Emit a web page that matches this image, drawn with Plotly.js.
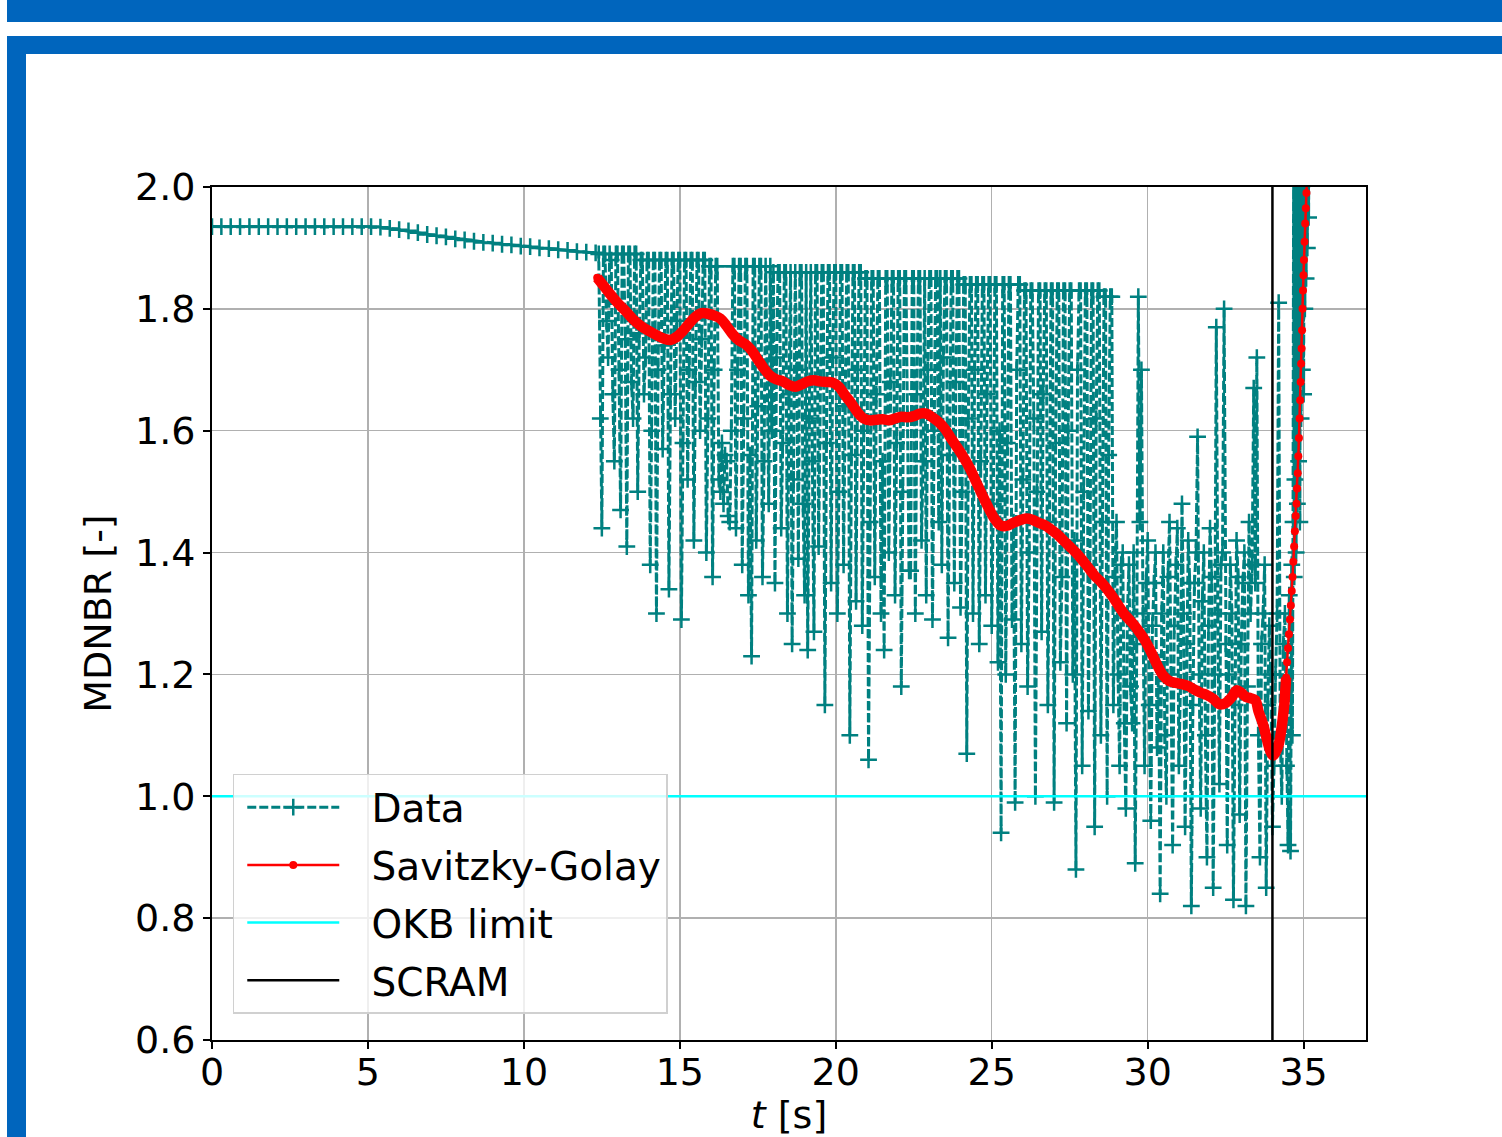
<!DOCTYPE html>
<html>
<head>
<meta charset="utf-8">
<script src="https://cdn.plot.ly/plotly-3.0.1.min.js"></script>
<style>
  html, body { margin: 0; padding: 0; background: #ffffff; overflow: hidden; }
  #wrap { position: relative; width: 1502px; height: 1137px; }
  #chart { position: absolute; left: 0; top: 0; width: 1502px; height: 1137px; }
  .band { position: absolute; background: #0065bd; z-index: 10; }
</style>
</head>
<body>
<div id="wrap">
  <div id="chart"></div>
  <div class="band" style="left:7px; top:0px; width:1495px; height:22px;"></div>
  <div class="band" style="left:7px; top:36px; width:1495px; height:18px;"></div>
  <div class="band" style="left:7px; top:36px; width:19px; height:1101px;"></div>
</div>
<script>
// ---- Data series ----
const dataT = [
  0.0,0.3,0.6,0.9,1.2,1.5,1.8,2.1,2.4,2.7,
  3.0,3.3,3.6,3.9,4.2,4.5,4.8,5.1,5.4,5.7,
  6.0,6.3,6.6,6.9,7.2,7.5,7.8,8.1,8.4,8.7,
  9.0,9.3,9.6,9.9,10.2,10.5,10.8,11.1,11.4,11.7,
  12.0,12.3,
  12.40,12.45,12.50,12.55,12.60,12.65,12.70,12.75,12.80,12.85,12.90,12.95,13.00,13.05,13.10,13.15,13.20,13.25,13.30,13.35,
  13.40,13.45,13.50,13.55,13.60,13.65,13.70,13.75,13.80,13.85,13.90,13.95,14.00,14.05,14.10,14.15,14.20,14.25,14.30,14.35,
  14.40,14.45,14.50,14.55,14.60,14.65,14.70,14.75,14.80,14.85,14.90,14.95,15.00,15.05,15.10,15.15,15.20,15.25,15.30,15.35,
  15.40,15.45,15.50,15.55,15.60,15.65,15.70,15.75,15.80,15.85,15.90,15.95,16.00,16.05,16.10,16.15,16.20,16.25,16.30,16.35,
  16.40,16.45,16.50,16.55,16.60,16.65,16.70,16.75,16.80,16.85,16.90,16.95,17.00,17.05,17.10,17.15,17.20,17.25,17.30,17.35,
  17.40,17.45,17.50,17.55,17.60,17.65,17.70,17.75,17.80,17.85,17.90,17.95,18.00,18.05,18.10,18.15,18.20,18.25,18.30,18.35,
  18.40,18.45,18.50,18.55,18.60,18.65,18.70,18.75,18.80,18.85,18.90,18.95,19.00,19.05,19.10,19.15,19.20,19.25,19.30,19.35,
  19.40,19.45,19.50,19.55,19.60,19.65,19.70,19.75,19.80,19.85,19.90,19.95,20.00,20.05,20.10,20.15,20.20,20.25,20.30,20.35,
  20.40,20.45,20.50,20.55,20.60,20.65,20.70,20.75,20.80,20.85,20.90,20.95,21.00,21.05,21.10,21.15,21.20,21.25,21.30,21.35,
  21.40,21.45,21.50,21.55,21.60,21.65,21.70,21.75,21.80,21.85,21.90,21.95,22.00,22.05,22.10,22.15,22.20,22.25,22.30,22.35,
  22.40,22.45,22.50,22.55,22.60,22.65,22.70,22.75,22.80,22.85,22.90,22.95,23.00,23.05,23.10,23.15,23.20,23.25,23.30,23.35,
  23.40,23.45,23.50,23.55,23.60,23.65,23.70,23.75,23.80,23.85,23.90,23.95,24.00,24.05,24.10,24.15,24.20,24.25,24.30,24.35,
  24.40,24.45,24.50,24.55,24.60,24.65,24.70,24.75,24.80,24.85,24.90,24.95,25.00,25.05,25.10,25.15,25.20,25.25,25.30,25.35,
  25.40,25.45,25.50,25.55,25.60,25.65,25.70,25.75,25.80,25.85,25.90,25.95,26.00,26.05,26.10,26.15,26.20,26.25,26.30,26.35,
  26.40,26.45,26.50,26.55,26.60,26.65,26.70,26.75,26.80,26.85,26.90,26.95,27.00,27.05,27.10,27.15,27.20,27.25,27.30,27.35,
  27.40,27.45,27.50,27.55,27.60,27.65,27.70,27.75,27.80,27.85,27.90,27.95,28.00,28.05,28.10,28.15,28.20,28.25,28.30,28.35,
  28.40,28.45,28.50,28.55,28.60,28.65,28.70,28.75,28.80,28.85,28.90,28.95,29.00,29.05,29.10,29.15,29.20,29.25,29.30,29.35,
  29.40,29.45,29.50,29.55,29.60,29.65,29.70,29.75,29.80,29.85,29.90,29.95,30.00,30.05,30.10,30.15,30.20,30.25,30.30,30.35,
  30.40,30.45,30.50,30.55,30.60,30.65,30.70,30.75,30.80,30.85,30.90,30.95,31.00,31.05,31.10,31.15,31.20,31.25,31.30,31.35,
  31.40,31.45,31.50,31.55,31.60,31.65,31.70,31.75,31.80,31.85,31.90,31.95,32.00,32.05,32.10,32.15,32.20,32.25,32.30,32.35,
  32.40,32.45,32.50,32.55,32.60,32.65,32.70,32.75,32.80,32.85,32.90,32.95,33.00,33.05,33.10,33.15,33.20,33.25,33.30,33.35,
  33.40,33.45,33.50,33.55,33.60,33.65,33.70,33.75,33.80,33.85,33.90,33.95,34.00,34.05,34.10,34.15,34.20,34.25,34.30,34.35,
  34.40,34.45,34.50,34.54,34.58,
  34.62,34.64,34.66,34.68,34.70,34.72,34.74,34.76,34.78,34.80,
  34.82,34.84,34.86,34.88,34.90,34.92,34.94,34.96,34.98,35.00,
  35.02,35.04,35.06,35.08,35.10,35.12,35.14,35.16,35.18,35.20
];
const dataY = [
  1.935,1.935,1.935,1.935,1.935,1.935,1.935,1.935,1.935,1.935,
  1.935,1.935,1.935,1.935,1.935,1.935,1.935,1.935,1.934,1.932,
  1.930,1.928,1.925,1.922,1.920,1.918,1.915,1.913,1.911,1.909,
  1.908,1.906,1.905,1.903,1.902,1.900,1.899,1.897,1.896,1.894,
  1.893,1.892,
  1.89,1.62,1.44,1.89,1.89,1.78,1.72,1.89,1.88,1.66,1.55,1.89,1.89,1.70,1.47,1.89,1.89,1.75,1.41,1.89,
  1.89,1.68,1.62,1.89,1.89,1.50,1.76,1.88,1.88,1.66,1.72,1.88,1.88,1.38,1.60,1.88,1.88,1.30,1.70,1.88,
  1.88,1.57,1.74,1.88,1.88,1.34,1.66,1.88,1.88,1.62,1.78,1.88,1.88,1.29,1.58,1.88,1.88,1.52,1.70,1.88,
  1.88,1.42,1.68,1.88,1.88,1.60,1.75,1.88,1.88,1.40,1.62,1.87,1.87,1.36,1.70,1.87,1.87,1.52,1.50,1.58,
  1.48,1.56,1.55,1.46,1.45,1.60,1.87,1.87,1.44,1.70,1.87,1.87,1.38,1.62,1.87,1.87,1.33,1.56,1.23,1.87,
  1.87,1.42,1.64,1.87,1.87,1.36,1.55,1.87,1.70,1.48,1.87,1.60,1.86,1.35,1.72,1.86,1.86,1.44,1.58,1.86,
  1.86,1.30,1.66,1.86,1.25,1.52,1.86,1.70,1.39,1.86,1.86,1.48,1.33,1.86,1.24,1.62,1.86,1.55,1.27,1.86,
  1.86,1.41,1.68,1.86,1.86,1.15,1.58,1.86,1.86,1.35,1.72,1.86,1.86,1.30,1.50,1.86,1.86,1.38,1.64,1.86,
  1.86,1.10,1.56,1.86,1.86,1.32,1.70,1.86,1.86,1.28,1.60,1.85,1.85,1.06,1.45,1.85,1.85,1.36,1.66,1.85,
  1.85,1.30,1.55,1.24,1.85,1.85,1.40,1.68,1.85,1.85,1.33,1.58,1.85,1.85,1.18,1.50,1.85,1.85,1.62,1.37,
  1.37,1.85,1.85,1.30,1.66,1.85,1.85,1.42,1.55,1.85,1.33,1.70,1.85,1.85,1.29,1.60,1.85,1.85,1.45,1.85,
  1.38,1.72,1.85,1.85,1.26,1.56,1.85,1.85,1.35,1.68,1.85,1.85,1.31,1.50,1.84,1.84,1.07,1.62,1.84,1.84,
  1.30,1.70,1.84,1.84,1.25,1.55,1.84,1.84,1.33,1.66,1.84,1.84,1.28,1.48,1.84,1.84,1.22,1.60,0.94,1.84,
  1.84,1.20,1.58,1.84,1.84,1.29,1.45,0.99,1.70,1.84,1.84,1.25,1.52,1.83,1.83,1.18,1.40,1.83,1.83,1.62,
  1.00,1.50,1.83,1.83,1.27,1.66,1.83,1.83,1.15,1.45,1.83,1.83,0.99,1.58,1.83,1.83,1.22,1.36,1.83,1.83,
  1.12,1.60,1.83,1.83,1.20,1.42,0.88,1.70,1.83,1.83,1.05,1.50,1.83,1.83,1.14,1.38,1.83,1.83,0.95,1.62,
  1.83,1.83,1.10,1.45,1.82,1.82,1.00,1.56,1.82,1.82,1.15,1.36,1.45,1.20,1.05,1.38,1.40,1.12,0.98,1.30,
  1.38,1.18,1.12,1.40,0.89,1.25,1.82,1.45,1.70,1.30,1.05,1.35,1.42,1.15,0.96,1.28,1.35,1.40,1.08,1.22,
  0.84,1.30,1.40,1.10,1.00,1.36,1.45,1.20,0.92,1.28,1.38,1.44,1.05,1.18,1.48,1.30,0.95,1.25,1.42,1.35,
  0.82,1.15,1.35,1.40,1.59,1.20,0.98,1.32,1.40,1.10,0.90,1.28,1.44,1.36,0.85,1.20,1.77,1.30,1.02,1.38,
  1.40,1.80,1.25,0.92,1.20,1.38,1.30,0.83,1.15,1.42,1.36,0.97,1.25,1.35,1.40,0.82,1.18,1.45,1.30,1.38,
  1.67,1.35,1.72,1.10,0.90,1.25,1.30,1.38,0.85,1.15,1.28,1.20,0.95,1.05,1.20,1.30,1.81,1.10,1.00,1.25,
  1.30,1.05,0.92,1.33,0.91,
  1.38,1.10,1.45,2.05,1.36,1.52,2.10,1.40,2.05,1.48,
  2.10,1.55,2.12,1.45,2.10,1.62,2.15,1.70,2.10,1.66,
  2.20,1.80,2.15,1.85,2.20,1.90,2.25,1.95,2.25,2.05
];
const sgT = [
  12.35,12.6,12.8,13.0,13.25,13.5,13.75,14.0,14.25,14.5,
  14.7,14.9,15.1,15.3,15.5,15.7,15.9,16.1,16.3,16.5,
  16.7,16.9,17.1,17.3,17.5,17.7,17.9,18.1,18.3,18.5,
  18.7,18.9,19.1,19.3,19.5,19.7,19.9,20.1,20.3,20.5,
  20.7,20.9,21.1,21.3,21.5,21.7,21.9,22.1,22.3,22.5,
  22.7,22.9,23.1,23.3,23.5,23.7,23.9,24.1,24.3,24.5,
  24.7,24.9,25.1,25.3,25.5,25.7,25.9,26.1,26.3,26.5,
  26.7,26.9,27.1,27.3,27.5,27.7,27.9,28.1,28.3,28.5,
  28.7,28.9,29.1,29.3,29.5,29.7,29.9,30.1,30.3,30.5,
  30.7,30.9,31.1,31.3,31.5,31.7,31.9,32.1,32.3,32.5,
  32.7,32.85,33.0,33.15,33.3,33.45,33.55,33.7,33.85,33.95,
  34.02,34.1,34.2,34.3,34.34,34.38,34.41,34.44,34.47,34.50,
  34.53,34.56,34.59,34.62,34.645,34.67,34.695,34.72,34.745,34.77,
  34.79,34.81,34.83,34.85,34.87,34.89,34.905,34.92,34.935,34.95,
  34.965,34.98,34.995,35.01,35.03,35.05,35.07,35.09,35.11
];
const sgY = [
  1.851,1.835,1.822,1.810,1.797,1.783,1.772,1.764,1.757,1.751,
  1.749,1.754,1.764,1.776,1.787,1.793,1.792,1.789,1.784,1.772,
  1.758,1.748,1.742,1.732,1.717,1.702,1.690,1.684,1.681,1.675,
  1.672,1.676,1.681,1.683,1.681,1.680,1.679,1.672,1.658,1.645,
  1.630,1.620,1.617,1.618,1.619,1.617,1.620,1.623,1.622,1.624,
  1.628,1.628,1.622,1.614,1.603,1.587,1.572,1.556,1.538,1.516,
  1.494,1.473,1.455,1.444,1.444,1.449,1.453,1.456,1.454,1.449,
  1.445,1.438,1.430,1.420,1.410,1.400,1.388,1.375,1.362,1.352,
  1.340,1.326,1.310,1.296,1.285,1.272,1.257,1.238,1.216,1.198,
  1.189,1.186,1.184,1.181,1.175,1.170,1.166,1.160,1.151,1.153,
  1.163,1.174,1.170,1.163,1.161,1.158,1.140,1.118,1.088,1.072,
  1.067,1.072,1.085,1.115,1.132,1.150,1.172,1.195,1.220,1.243,
  1.266,1.290,1.313,1.337,1.360,1.385,1.410,1.435,1.460,1.480,
  1.505,1.530,1.558,1.588,1.620,1.650,1.680,1.710,1.735,1.765,
  1.800,1.830,1.855,1.880,1.910,1.940,1.965,1.990,2.020
];
const okbLimit = 1.0;
const scramTime = 34.0;
const xTickVals = [0, 5, 10, 15, 20, 25, 30, 35];
const yTickVals = [0.6, 0.8, 1.0, 1.2, 1.4, 1.6, 1.8, 2.0];
const xRange = [0, 37];
const yRange = [0.6, 2.0];
const seriesNames = ['Data', 'Savitzky-Golay', 'OKB limit', 'SCRAM'];

// thick band part of the smoothed curve (slowly varying section)
const bandT = sgT.filter(t => t <= 34.45);
const bandY = sgY.slice(0, bandT.length);

const FONT = 'DejaVu Sans, Verdana, sans-serif';
const GAP = '\u2002\u2009';  // visual gap between legend symbol and label

const traces = [
  {
    x: dataT, y: dataY, name: GAP + seriesNames[0], type: 'scatter', mode: 'lines+markers',
    legendgroup: 'g1',
    line: { color: '#008080', width: 3, dash: '9px,3px' },
    marker: { symbol: 'cross-thin', size: 12, color: '#008080', line: { color: '#008080', width: 2.5 } },
    hoverinfo: 'skip'
  },
  {
    x: bandT, y: bandY, type: 'scatter', mode: 'lines', showlegend: false,
    line: { color: '#ff0000', width: 10.5, shape: 'spline' }, hoverinfo: 'skip'
  },
  {
    x: sgT, y: sgY, name: GAP + seriesNames[1], type: 'scatter', mode: 'lines+markers',
    legendgroup: 'g2',
    line: { color: '#ff0000', width: 2.5 },
    marker: { symbol: 'circle', size: 8, color: '#ff0000' },
    hoverinfo: 'skip'
  },
  {
    x: xRange, y: [okbLimit, okbLimit], name: GAP + seriesNames[2], type: 'scatter', mode: 'lines',
    legendgroup: 'g3',
    line: { color: '#00ffff', width: 2.5 }, hoverinfo: 'skip'
  },
  {
    x: [scramTime, scramTime], y: yRange, name: GAP + seriesNames[3], type: 'scatter', mode: 'lines',
    legendgroup: 'g4',
    line: { color: '#000000', width: 2.5 }, hoverinfo: 'skip'
  }
];

const axisCommon = {
  showline: true, mirror: true, linecolor: '#000000', linewidth: 2,
  ticks: 'outside', ticklen: 7, tickwidth: 2, tickcolor: '#000000',
  showgrid: true, gridcolor: '#b0b0b0', gridwidth: 1.5, zeroline: false,
  tickfont: { family: FONT, size: 38, color: '#000000' }
};

const layout = {
  width: 1502, height: 1137,
  margin: { l: 212, r: 136, t: 187, b: 97, pad: 0 },
  paper_bgcolor: '#ffffff', plot_bgcolor: '#ffffff',
  showlegend: true,
  xaxis: Object.assign({}, axisCommon, {
    range: xRange, tickmode: 'array', tickvals: xTickVals,
    ticktext: xTickVals.map(v => String(v)),
    ticklabelstandoff: -10,
    title: { text: '<i>t</i> [s]', font: { family: FONT, size: 38, color: '#000000' }, standoff: 17 }
  }),
  yaxis: Object.assign({}, axisCommon, {
    range: yRange, tickmode: 'array', tickvals: yTickVals,
    ticktext: yTickVals.map(v => v.toFixed(1)),
    title: { text: 'MDNBR [-]', font: { family: FONT, size: 38, color: '#000000' }, standoff: 12 }
  }),
  legend: {
    x: 0.018, y: 0.312, xanchor: 'left', yanchor: 'top',
    bgcolor: 'rgba(255,255,255,0.8)', bordercolor: '#d0d0d0', borderwidth: 1.5,
    font: { family: FONT, size: 39, color: '#000000' },
    traceorder: 'grouped', tracegroupgap: 4, itemwidth: 92, indentation: 8
  }
};

Plotly.newPlot('chart', traces, layout, { staticPlot: true, displayModeBar: false });
</script>
</body>
</html>
